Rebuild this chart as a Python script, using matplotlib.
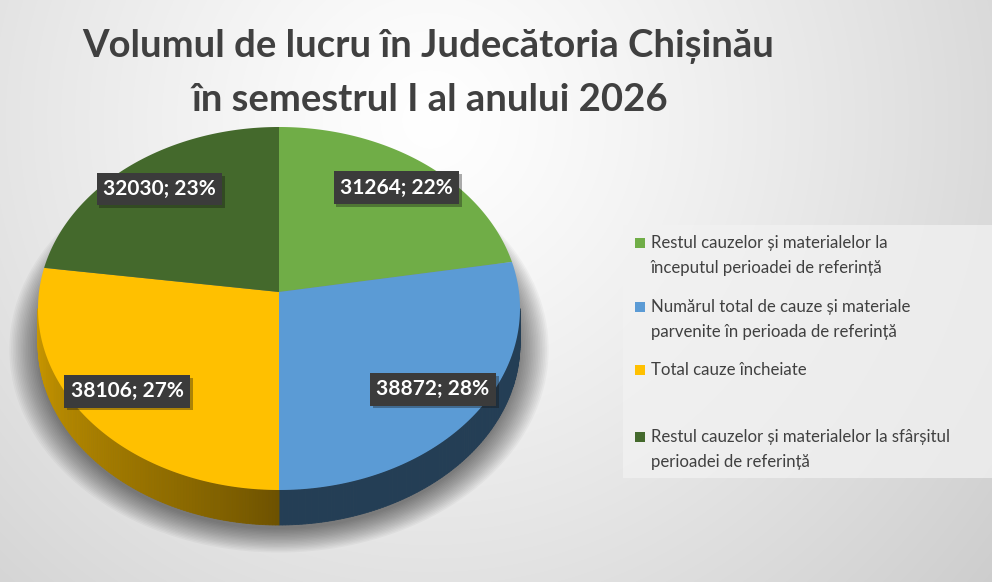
import numpy as np
import matplotlib.pyplot as plt
from matplotlib.patches import Polygon, Rectangle
import matplotlib.patheffects as pe

plt.rcParams['font.family'] = ['Lato', 'DejaVu Sans']

title_lines = ["Volumul de lucru în Judecătoria Chișinău",
               "în semestrul I al anului 2026"]
categories = [
    ["Restul cauzelor și materialelor la", "începutul perioadei de referință"],
    ["Numărul total de cauze și materiale", "parvenite în perioada de referință"],
    ["Total cauze încheiate"],
    ["Restul cauzelor și materialelor la sfârșitul", "perioadei de referință"],
]
values = [31264, 38872, 38106, 32030]
colors = ["#70AD47", "#5B9BD5", "#FFC000", "#44692C"]

W, H = 992, 582
fig = plt.figure(figsize=(W / 100, H / 100), dpi=100)
ax = fig.add_axes([0, 0, 1, 1])
ax.set_xlim(0, W)
ax.set_ylim(H, 0)
ax.axis('off')

# background: soft radial gradient
gx, gy = np.meshgrid(np.arange(W), np.arange(H))
dist = np.hypot(gx - 430, gy - 120) / 650
shade = 1 - 0.17 * np.clip(dist, 0, 1.2) ** 1.2
bg = np.dstack([shade] * 3)
ax.imshow(bg, extent=(0, W, H, 0), zorder=0, aspect='auto')

# 3d pie geometry (perspective of a tilted disk)
cx, cy, A, B, k, depth = 279, 292, 240, 180, 0.0909, 35


def proj(theta, r=1.0):
    X = r * np.cos(theta)
    Y = r * np.sin(theta)
    d = 1 + k * Y
    return cx + A * X / d, cy - B * Y / d


total = sum(values)
fracs = np.array(values) / total
ends = np.pi / 2 - np.cumsum(fracs) * 2 * np.pi
starts = np.concatenate([[np.pi / 2], ends[:-1]])

# shadow under the pie
t = np.linspace(0, 2 * np.pi, 200)
sx, sy = proj(t)
for i in range(18):
    s = 1.0 + i * 0.007
    px = cx + (sx - cx) * s
    py = cy + depth + 4 + (sy - cy) * s
    ax.add_patch(Polygon(np.column_stack([px, py]), closed=True,
                         fc='black', ec='none', alpha=0.03, zorder=1))

# side walls (only the front half is visible)
front_lo, front_hi = -np.pi - np.arcsin(-k), np.arcsin(-k)
for i, (a0, a1) in enumerate(zip(starts, ends)):
    lo, hi = max(min(a0, a1), front_lo), min(max(a0, a1), front_hi)
    if hi <= lo:
        continue
    th = np.linspace(lo, hi, 120)
    base = np.array(plt.matplotlib.colors.to_rgb(colors[i]))
    for j in range(len(th) - 1):
        x0, y0 = proj(th[j])
        x1, y1 = proj(th[j + 1])
        if i == 2:
            f = 0.42 + 0.40 * ((-np.pi / 2 - th[j]) / (np.pi / 2)) ** 0.8
        else:
            f = 0.40
        quad = [(x0, y0), (x1, y1), (x1, y1 + depth), (x0, y0 + depth)]
        ax.add_patch(Polygon(quad, closed=True, fc=np.clip(base * f, 0, 1),
                             ec=np.clip(base * f, 0, 1), lw=0.6, zorder=2))

# top faces
for i, (a0, a1) in enumerate(zip(starts, ends)):
    th = np.linspace(a0, a1, 200)
    px, py = proj(th)
    pts = np.column_stack([np.r_[cx, px], np.r_[cy, py]])
    ax.add_patch(Polygon(pts, closed=True, fc=colors[i], ec='none', zorder=3))

# data labels
for i, (a0, a1) in enumerate(zip(starts, ends)):
    lx, ly = proj((a0 + a1) / 2, 0.8)
    pct = round(fracs[i] * 100)
    txt = ax.text(lx, ly, f"{values[i]}; {pct}%", ha='center', va='center',
                  color='white', fontsize=15, fontweight='bold', zorder=5,
                  bbox=dict(boxstyle='square,pad=0.3', fc='#3B3B3B', ec='none'))
    txt.get_bbox_patch().set_path_effects(
        [pe.SimplePatchShadow(offset=(2, -2), alpha=0.35), pe.Normal()])

# title
ax.text(428, 47, title_lines[0], ha='center', va='center', fontsize=27.5,
        fontweight='bold', color='#404040', zorder=5)
ax.text(430, 100, title_lines[1], ha='center', va='center', fontsize=27.5,
        fontweight='bold', color='#404040', zorder=5)

# legend
ax.add_patch(Rectangle((623, 225), W - 623, 253, fc='#F2F2F2', ec='none',
                       alpha=0.75, zorder=4))
entry_y = [243, 307, 370, 437]
for i, lines in enumerate(categories):
    y = entry_y[i]
    ax.add_patch(Rectangle((635, y - 5), 10, 10, fc=colors[i], ec='none', zorder=5))
    for j, line in enumerate(lines):
        ax.text(651, y + j * 25, line, ha='left', va='center', fontsize=12.1,
                color='#404040', zorder=5)

fig.savefig('out.png', dpi=100)
